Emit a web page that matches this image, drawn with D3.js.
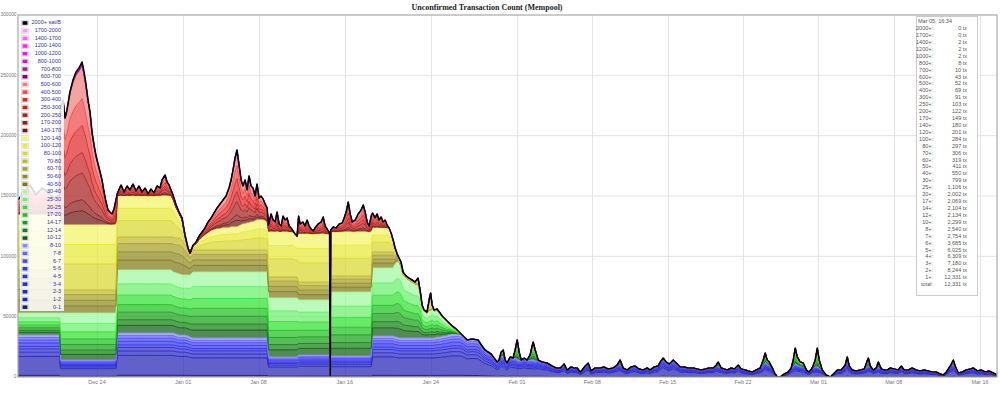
<!DOCTYPE html>
<html>
<head>
<meta charset="utf-8">
<title>Unconfirmed Transaction Count (Mempool)</title>
<script src="https://d3js.org/d3.v7.min.js"></script>
<style>
  body { margin: 0; background: #fff; }
  svg { display: block; font-family: "Liberation Sans", Arial, sans-serif; }
</style>
</head>
<body>
<svg id="chart" width="1000" height="395"></svg>
<script>
// fee bands in sat/B, lowest first (stack order)
const bands = ["0-1","1-2","2-3","3-4","4-5","5-6","6-7","7-8","8-10",
  "10-12","12-14","14-17","17-20","20-25","25-30","30-40",
  "40-50","50-60","60-70","70-80",
  "80-100","100-120","120-140",
  "140-170","170-200","200-250","250-300","300-400","400-500","500-600",
  "600-700","700-800","800-1000","1000-1200","1200-1400","1400-1700","1700-2000","2000+"];

const colors = ["#1a1a6e","#2424b4","#2828c4","#2c2cd4","#3030e4","#3434f4","#4848ff","#6464ff","#8888ff",
  "#106010","#148014","#18a018","#20c020","#30e030","#68f068","#a0f8a0",
  "#807818","#908a20","#a8a028","#c0b830",
  "#d8d830","#e8e838","#f4f468",
  "#701818","#8c1c1c","#a82020","#c42424","#e02828","#f04848","#f08080",
  "#800080","#a020a0","#c020c0","#e020e0","#ff20ff","#ff60ff","#ff99ff","#000000"];

const blueShare   = [0.04,0.45,0.10,0.08,0.06,0.08,0.07,0.06,0.06];
const greenShare  = [0.12,0.09,0.12,0.12,0.15,0.18,0.22];
const oliveShare  = [0.30,0.25,0.25,0.20];
const yellowShare = [0.40,0.30,0.30];
const redShare    = [0.09,0.07,0.17,0.13,0.17,0.17,0.20];
const purpleShare = [0.35,0.20,0.15,0.10,0.08,0.05,0.04,0.03];

// Dec 16 - Jan 27: days since 2017-12-16, cumulative levels in thousands of tx
const frontDays = [
  0.66,1.22,1.77,2.33,2.89,3.45,4.00,4.51,
  4.61,4.84,5.03,5.21,5.49,5.77,6.05,6.33,6.61,6.79,6.98,7.16,7.35,7.53,7.72,7.91,8.09,8.28,8.46,8.65,8.83,9.02,9.20,9.39,9.58,9.76,
  9.90,10.23,10.51,10.79,11.06,11.34,11.62,11.90,12.18,12.46,12.74,13.01,13.29,13.57,13.85,14.04,14.32,14.50,14.69,14.87,
  15.06,15.34,15.62,15.89,16.17,16.45,16.64,
  16.92,17.20,17.48,17.76,18.03,18.31,18.59,18.87,19.15,19.42,19.70,19.98,20.26,20.45,20.63,20.82,21.00,21.19,21.38,21.56,21.75,21.93,22.12,22.30,22.49,22.68,22.86,23.05,23.23,23.42,23.61,23.79,
  23.93,24.16,24.35,24.53,24.72,24.91,25.09,25.28,25.46,25.65,25.84,26.02,26.21,26.39,26.58,
  26.72,26.86,27.13,27.32,27.51,27.69,27.88,28.07,28.25,28.53,28.81,29.00,29.18,29.37,29.60,
  29.65,
  29.70,29.93,30.21,30.49,30.77,30.95,31.14,31.33,31.51,31.70,31.98,32.25,32.53,32.72,32.90,33.09,33.28,33.46,
  33.59,33.82,34.01,34.19,34.38,34.57,34.75,34.94,35.12,35.31,35.50,
  35.68,35.87,36.05,36.23,36.42,36.70,36.98,37.26,37.54,37.81,38.00,38.19,38.37,38.65,38.84,38.98,39.12,39.30,39.58,39.86,40.14,40.42,40.60,40.98,41.35,41.72,42.00];

const lvBlue = [
  34.8,34.8,34.8,34.8,34.8,34.8,34.8,34.8,
  14.1,14.1,14.1,14.1,14.1,14.1,14.1,14.1,14.1,14.1,14.1,14.1,14.1,14.1,14.1,14.1,14.1,14.1,14.1,14.1,14.1,14.1,14.1,14.1,14.1,14.1,
  36.5,36.5,36.5,36.5,36.5,36.5,36.5,36.5,36.5,36.5,36.5,36.5,36.5,36.5,36.5,36.5,36.5,36.5,36.5,36.5,
  36.5,35.6,34.8,34.8,34.8,34.0,33.1,
  32.3,32.3,32.3,32.3,32.3,32.3,32.3,32.3,32.3,32.3,32.3,32.3,32.3,32.3,32.3,32.3,32.3,32.3,32.3,32.3,32.3,32.3,32.3,32.3,32.3,32.3,32.3,32.3,32.3,32.3,32.3,32.3,
  16.6,16.6,16.6,16.6,16.6,16.6,16.6,16.6,16.6,16.6,16.6,16.6,16.6,16.6,16.6,
  18.2,18.2,18.2,18.2,18.2,18.2,18.2,18.2,18.2,18.2,18.2,18.2,18.2,18.2,18.2,
  0,
  17.4,17.4,17.4,17.4,17.4,17.4,17.4,17.4,17.4,17.4,17.4,17.4,17.4,17.4,17.4,17.4,17.4,17.4,
  34.0,34.0,34.0,34.0,34.0,34.0,34.0,34.0,34.0,34.0,34.0,
  33.1,33.1,32.3,32.3,32.3,32.3,32.3,32.3,32.3,32.3,32.3,32.3,32.3,32.3,32.3,32.3,32.3,32.3,33.1,33.1,34.0,34.0,34.8,35.6,35.6,35.6,34.0];

const lvGreen = [
  53.0,53.0,53.0,53.0,53.0,53.0,53.0,53.0,
  53.0,53.0,53.0,53.0,53.0,53.0,53.0,53.0,53.0,53.0,53.0,53.0,53.0,53.0,53.0,53.0,53.0,53.0,53.0,53.0,53.0,53.0,53.0,53.0,53.0,53.0,
  88.7,88.7,88.7,88.7,88.7,88.7,88.7,88.7,88.7,88.7,88.7,88.7,88.7,88.7,88.7,88.7,88.7,88.7,88.7,88.7,
  87.0,86.2,85.4,84.5,84.5,84.5,84.5,
  87.0,87.0,87.0,87.0,87.0,87.0,87.0,87.0,87.0,87.0,87.0,87.0,87.0,87.0,87.0,87.0,87.0,87.0,87.0,87.0,87.0,87.0,87.0,87.0,87.0,87.0,87.0,87.0,87.0,87.0,87.0,87.0,
  65.5,65.5,65.5,65.5,65.5,65.5,65.5,65.5,65.5,65.5,65.5,65.5,65.5,65.5,65.5,
  63.8,63.8,63.8,63.8,63.8,63.8,63.8,63.8,63.8,63.8,63.8,63.8,63.8,63.8,63.8,
  0,
  70.4,70.4,70.4,70.4,70.4,70.4,70.4,70.4,70.4,70.4,70.4,70.4,70.4,70.4,70.4,70.4,70.4,70.4,
  90.3,90.3,90.3,90.3,90.3,90.3,90.3,90.3,90.3,90.3,90.3,
  93.6,95.3,95.3,92.0,84.5,82.0,80.4,78.7,77.1,77.1,70.4,58.0,54.7,53.0,55.5,55.5,57.2,54.7,55.5,52.2,48.9,46.4,44.8,41.4,38.9,35.6,34.0];

const lvOlive = [
  88.7,88.7,88.7,88.7,88.7,88.7,88.7,88.7,
  72.1,72.1,72.1,72.1,72.1,72.1,72.1,72.1,72.1,72.1,72.1,72.1,72.1,72.1,72.1,72.1,72.1,72.1,72.1,72.1,72.1,72.1,72.1,72.1,72.1,72.1,
  116.0,116.0,116.0,116.0,116.0,116.0,116.0,116.0,116.0,116.0,116.0,116.0,116.0,116.0,116.0,116.0,116.0,116.0,116.0,116.0,
  116.0,115.2,115.2,113.5,109.4,105.2,101.9,
  105.2,105.2,105.2,105.2,105.2,105.2,105.2,105.2,105.2,105.2,105.2,105.2,105.2,105.2,105.2,105.2,105.2,105.2,105.2,105.2,105.2,105.2,105.2,105.2,105.2,105.2,105.2,105.2,105.2,105.2,105.2,105.2,
  82.9,82.9,82.9,82.9,82.9,82.9,82.9,82.9,82.9,82.9,82.9,82.9,82.9,82.9,82.9,
  78.7,78.7,78.7,78.7,78.7,78.7,78.7,78.7,78.7,78.7,78.7,78.7,78.7,78.7,78.7,
  0,
  83.7,83.7,83.7,83.7,83.7,83.7,83.7,83.7,83.7,83.7,83.7,83.7,83.7,83.7,83.7,83.7,83.7,83.7,
  103.6,103.6,103.6,103.6,103.6,103.6,103.6,103.6,103.6,103.6,103.6,
  100.3,101.9,95.3,92.0,84.5,82.0,80.4,78.7,77.1,77.1,70.4,58.0,54.7,53.0,55.5,55.5,57.2,54.7,55.5,52.2,48.9,46.4,44.8,41.4,38.9,35.6,34.0];

const lvYellow = [
  134.2,134.2,134.2,134.2,134.2,134.2,134.2,134.2,
  126.0,126.0,126.0,126.0,126.0,126.0,126.0,126.0,126.0,126.0,126.0,126.0,126.0,126.0,126.0,126.0,126.0,126.0,126.0,126.0,126.0,126.0,126.0,126.0,126.0,126.0,
  150.0,150.0,150.0,150.0,150.0,150.0,150.0,150.0,150.0,150.0,150.0,150.0,150.0,150.0,150.0,150.0,150.0,150.0,150.0,150.0,
  146.7,140.1,135.1,130.1,116.0,106.1,101.9,
  108.6,110.2,113.5,116.0,117.7,119.3,121.0,121.8,122.6,122.6,123.5,123.5,123.5,124.3,124.3,124.3,124.3,125.1,126.0,126.8,126.8,127.6,127.6,128.4,128.4,129.3,130.1,130.1,130.1,130.1,129.3,128.4,
  120.2,120.2,120.2,120.2,120.2,120.2,120.2,120.2,120.2,120.2,120.2,120.2,120.2,118.5,116.8,
  118.5,118.5,118.5,118.5,118.5,118.5,118.5,118.5,118.5,118.5,118.5,118.5,118.5,118.5,118.5,
  0,
  120.2,120.2,120.2,120.2,120.2,120.2,120.2,120.2,120.2,120.2,120.2,120.2,120.2,120.2,120.2,120.2,120.2,120.2,
  123.5,123.5,123.5,123.5,123.5,123.5,123.5,123.5,123.5,119.3,113.5,
  106.9,101.9,98.6,95.3,87.0,83.7,82.0,80.4,78.7,82.0,72.1,59.7,55.5,53.9,63.8,69.6,59.7,55.5,56.4,53.0,49.7,47.2,45.6,42.3,39.8,36.5,34.0];

const lvTotal = [
  146.7,153.3,159.1,150.8,156.6,153.3,148.3,150.8,
  223.7,229.6,214.6,221.3,236.2,246.1,252.8,256.1,261.0,252.8,242.0,229.6,219.6,203.0,192.3,183.1,176.5,169.9,163.3,153.3,145.0,138.4,136.7,135.1,139.2,146.7,
  152.5,159.1,153.3,158.3,155.0,159.9,154.1,158.3,153.3,156.6,151.7,155.8,152.5,158.3,156.6,163.3,167.4,161.6,159.1,155.0,
  150.8,142.5,136.7,131.8,117.7,106.9,102.8,
  109.4,111.9,116.8,120.2,123.5,128.4,131.8,135.9,140.1,143.4,146.7,150.0,156.6,163.3,171.5,181.5,188.1,175.7,163.3,158.3,163.3,155.0,166.6,158.3,156.6,150.0,159.9,148.3,150.0,147.5,143.4,140.1,
  126.0,135.1,130.1,128.4,136.7,126.8,125.1,133.4,130.1,131.8,125.1,123.5,121.0,118.5,116.8,
  133.4,126.8,128.4,125.1,130.1,125.1,122.6,121.0,123.5,126.8,128.4,132.6,125.1,122.6,119.3,
  0,
  121.8,124.3,123.5,126.8,127.6,131.8,136.7,145.0,135.1,128.4,130.1,135.1,138.4,142.5,136.7,128.4,125.1,133.4,
  135.9,131.8,135.1,130.1,132.6,128.4,130.1,126.0,123.5,119.3,113.5,
  106.9,101.9,98.6,95.3,87.0,83.7,82.0,80.4,78.7,82.0,72.1,59.7,55.5,53.9,63.8,69.6,59.7,55.5,56.4,53.0,49.7,47.2,45.6,42.3,39.8,36.5,34.0];

// 600+ sat/B amounts (thousands) around the Dec 22 peak
const purpleDays    = [5.77,6.05,6.33,6.61,6.79,6.98,7.16,7.35,7.53,7.72,7.91];
const purpleAmounts = [2.5,3.4,3.3,4.1,3.4,2.5,1.7,1.7,0.8,1.7,0.8];

// Jan 27 - Mar 17: total in thousands of tx
const tailDays = [
  42.37,42.83,43.39,43.76,44.04,44.32,44.60,44.88,45.16,45.34,
  45.53,45.72,45.90,46.09,46.37,46.64,46.83,47.02,47.20,47.39,
  47.67,47.94,48.22,48.50,48.69,48.97,49.34,49.80,50.27,50.64,
  51.01,51.38,51.66,52.03,52.31,52.59,52.87,53.05,53.33,53.61,
  53.89,54.26,54.73,55.10,55.47,55.93,56.30,56.58,56.86,57.23,
  57.60,57.98,58.35,58.72,59.09,59.37,59.74,60.11,60.30,60.58,
  60.86,61.14,61.51,61.79,62.16,62.53,62.90,63.37,63.74,64.11,
  64.49,64.86,65.23,65.51,65.69,65.97,66.25,66.53,66.90,67.18,
  67.55,67.83,68.20,68.48,68.85,69.22,69.59,69.87,70.05,70.24,
  70.43,70.71,70.98,71.17,71.45,71.82,72.19,72.47,72.66,72.84,
  73.03,73.31,73.59,73.87,74.14,74.42,74.70,74.89,75.07,75.35,
  75.72,76.09,76.37,76.74,77.11,77.49,77.67,77.86,78.14,78.51,
  78.88,79.25,79.63,79.81,80.09,80.37,80.56,80.83,81.11,81.39,
  81.67,82.04,82.41,82.69,82.97,83.34,83.71,84.08,84.45,84.83,
  85.20,85.57,85.94,86.31,86.59,86.87,87.24,87.52,87.70,87.98,
  88.35,88.72,89.10,89.38,89.75,90.12,90.49,90.86,91.24,91.61];

const tailTotal = [
  30.7,31.5,30.7,25.7,22.4,20.7,19.1,15.7,12.4,14.1,
  20.7,22.4,14.1,11.6,16.6,15.7,22.4,30.7,20.7,14.1,
  15.7,14.1,18.2,29.0,22.4,14.1,12.4,11.6,9.1,7.5,
  7.5,10.8,5.8,8.3,7.5,7.5,4.1,5.8,9.1,11.6,
  5.0,7.5,7.5,8.3,6.6,7.5,9.9,14.1,7.5,5.8,
  8.3,9.1,6.6,5.8,7.5,5.8,8.3,9.1,12.4,15.7,
  12.4,10.8,14.1,11.6,8.3,8.3,7.5,7.5,6.6,5.8,
  6.6,7.5,7.5,9.9,12.4,7.5,6.6,5.8,7.5,6.6,
  9.9,6.6,5.8,5.0,4.1,5.8,7.5,14.1,19.9,14.1,
  12.4,7.5,2.5,0,0,2.5,4.1,7.5,14.1,24.0,
  16.6,12.4,11.6,5.8,4.1,7.5,14.1,24.0,14.1,5.8,
  1.7,0,2.5,5.8,5.8,9.9,16.6,9.1,5.8,5.0,
  5.8,6.6,15.7,9.1,5.8,7.5,12.4,6.6,5.8,5.8,
  7.5,6.6,5.8,9.1,5.8,5.8,7.5,5.8,5.0,5.8,
  5.0,4.1,4.1,2.5,1.7,4.1,9.1,14.1,9.1,3.3,
  4.1,5.8,6.6,7.5,5.0,5.8,4.1,5.0,3.3,1.7];

// short bursts of 10+ sat/B transactions on top of the blue
const spikeDays    = [45.53,45.72,46.83,47.02,47.20,48.22,48.50,48.69,56.58,65.69,69.87,70.05,70.24,70.43,72.66,72.84,73.03,73.31,73.59,74.70,74.89,75.07,77.67,79.63,80.56,87.52];
const spikeAmounts = [3.3,5.0,6.7,16.6,6.6,4.1,14.9,9.1,3.3,3.3,4.2,7.5,3.3,2.5,5.0,13.2,6.7,3.3,3.3,5.8,15.7,6.6,4.2,6.6,4.1,3.3];

const yTicks = [0,50000,100000,150000,200000,250000,300000];
const xTickDates = ["2017-12-24","2018-01-01","2018-01-08","2018-01-16","2018-01-24","2018-02-01",
  "2018-02-08","2018-02-15","2018-02-22","2018-03-01","2018-03-08","2018-03-16"];

// hover box at Mar 05, 16:34
const tipTime = "Mar 05, 16:34";
const tipCounts = [0,0,2,2,2,8,10,43,52,69,91,103,122,149,180,201,284,297,306,319,411,550,799,1106,
  2002,2069,2104,2134,2299,2540,2754,3685,6025,6309,7180,8244,12331,12331];

// ---------------------------------------------------------------
const start = new Date(2017, 11, 16);
const dayToDate = d => new Date(+start + d * 864e5);
const shares = [blueShare, greenShare, oliveShare, yellowShare, redShare, purpleShare];
const purpleMap = new Map(purpleDays.map((d, i) => [d, purpleAmounts[i]]));
const spikeMap = new Map(spikeDays.map((d, i) => [d, spikeAmounts[i]]));

const rows = [];
function pushRow(day, groups) {
  const r = { date: dayToDate(day) };
  let k = 0;
  groups.forEach((amt, gi) => {
    shares[gi].forEach(s => { r[bands[k++]] = Math.max(0, amt) * s * 1000; });
  });
  rows.push(r);
}
frontDays.forEach((d, i) => {
  const p = purpleMap.get(d) || 0;
  pushRow(d, [lvBlue[i], lvGreen[i] - lvBlue[i], lvOlive[i] - lvGreen[i],
    lvYellow[i] - lvOlive[i], lvTotal[i] - p - lvYellow[i], p]);
});
tailDays.forEach((d, i) => {
  const s = spikeMap.get(d) || 0;
  pushRow(d, [tailTotal[i] - s, s, 0, 0, 0, 0]);
});

const svg = d3.select("#chart");
const plot = { left: 18, right: 997, top: 15, bottom: 377 };

const x = d3.scaleTime()
  .domain([dayToDate(0.66), dayToDate(91.58)])
  .range([plot.left, plot.right]);
const y = d3.scaleLinear().domain([0, 300000]).range([plot.bottom, plot.top]);

// title
svg.append("text")
  .attr("x", 487).attr("y", 10)
  .attr("text-anchor", "middle")
  .style("font-family", "'Liberation Serif', 'Times New Roman', serif")
  .style("font-weight", "bold").style("font-size", "8px")
  .attr("fill", "#222")
  .text("Unconfirmed Transaction Count (Mempool)");

// grid
const parse = d3.timeParse("%Y-%m-%d");
const xTicks = xTickDates.map(parse);
const grid = svg.append("g");
grid.selectAll("line.h").data(yTicks.slice(1, -1)).join("line")
  .attr("x1", plot.left).attr("x2", plot.right)
  .attr("y1", d => y(d)).attr("y2", d => y(d))
  .attr("stroke", "#e4e4e4");
grid.selectAll("line.v").data(xTicks).join("line")
  .attr("x1", d => Math.round(x(d)) + 0.5).attr("x2", d => Math.round(x(d)) + 0.5)
  .attr("y1", plot.top).attr("y2", plot.bottom)
  .attr("stroke", "#e4e4e4");

// stacked areas
svg.append("clipPath").attr("id", "clip")
  .append("rect")
  .attr("x", plot.left).attr("y", plot.top)
  .attr("width", plot.right - plot.left).attr("height", plot.bottom - plot.top);

const series = d3.stack().keys(bands)(rows);
const area = d3.area()
  .x(d => x(d.data.date))
  .y0(d => y(d[0]))
  .y1(d => y(d[1]));
const line = d3.line()
  .x(d => x(d.data.date))
  .y(d => y(d[1]));

const layers = svg.append("g").attr("clip-path", "url(#clip)");
layers.selectAll("path.area").data(series).join("path")
  .attr("class", "area")
  .attr("d", area)
  .attr("fill", (d, i) => colors[i])
  .attr("fill-opacity", 0.72);
layers.selectAll("path.line").data(series).join("path")
  .attr("class", "line")
  .attr("d", line)
  .attr("fill", "none")
  .attr("stroke", (d, i) => colors[i])
  .attr("stroke-width", (d, i) => i === bands.length - 1 ? 1.6 : 0.9)
  .attr("stroke-linejoin", "round");

// frame
svg.append("rect")
  .attr("x", plot.left).attr("y", plot.top)
  .attr("width", plot.right - plot.left).attr("height", plot.bottom - plot.top)
  .attr("fill", "none").attr("stroke", "#a8a8a8").attr("stroke-width", 1.2);

// axis labels
svg.append("g").selectAll("text").data(yTicks).join("text")
  .attr("x", 16.5).attr("y", d => Math.max(y(d), 9))
  .attr("text-anchor", "end").attr("dominant-baseline", "middle")
  .attr("fill", "#777").style("font-size", "4.8px")
  .text(d => String(d));
svg.append("g").selectAll("text").data(xTicks).join("text")
  .attr("x", d => x(d)).attr("y", 384)
  .attr("text-anchor", "middle")
  .attr("fill", "#777").style("font-size", "5.5px")
  .text(d3.timeFormat("%b %d"));

// legend, highest fee first
const legend = svg.append("g");
legend.append("rect")
  .attr("x", 20).attr("y", 18).attr("width", 44).attr("height", 293)
  .attr("fill", "#fff").attr("fill-opacity", 0.85);
const legendItems = legend.selectAll("g").data(bands.slice().reverse()).join("g")
  .attr("transform", (d, i) => `translate(0,${23 + i * 7.68})`);
legendItems.append("rect")
  .attr("x", 21.5).attr("y", -2.6).attr("width", 7).attr("height", 5.2)
  .attr("fill", "#fff").attr("stroke", "#ccc").attr("stroke-width", 0.6);
legendItems.append("rect")
  .attr("x", 22.5).attr("y", -1.8).attr("width", 5).attr("height", 3.6)
  .attr("fill", d => colors[bands.indexOf(d)]);
legendItems.append("text")
  .attr("x", 61).attr("y", 0)
  .attr("text-anchor", "end").attr("dominant-baseline", "middle")
  .attr("fill", "#33339a").style("font-size", "5.5px")
  .text(d => d === "2000+" ? "2000+ sat/B" : d);

// hover box
const tipLabels = bands.slice(1).reverse().map(b => b.split(/[-+]/)[0] + "+:").concat(["total:"]);
const tip = svg.append("g");
tip.append("rect")
  .attr("x", 916.5).attr("y", 16.5).attr("width", 61).attr("height", 279)
  .attr("fill", "#fff").attr("stroke", "#ccc");
tip.append("text")
  .attr("x", 918).attr("y", 21.7).attr("dominant-baseline", "middle")
  .attr("fill", "#555").style("font-size", "5.5px")
  .text(tipTime);
const fmt = d3.format(",");
const tipRows = tip.selectAll("g").data(tipLabels).join("g")
  .attr("transform", (d, i) => `translate(0,${21.7 + (i + 1) * 6.92})`);
tipRows.append("text")
  .attr("x", 933).attr("text-anchor", "end").attr("dominant-baseline", "middle")
  .attr("fill", "#555").style("font-size", "5.5px")
  .text(d => d);
tipRows.append("text")
  .attr("x", 967).attr("text-anchor", "end").attr("dominant-baseline", "middle")
  .attr("fill", "#555").style("font-size", "5.5px")
  .text((d, i) => fmt(tipCounts[i]) + " tx");
</script>
</body>
</html>
